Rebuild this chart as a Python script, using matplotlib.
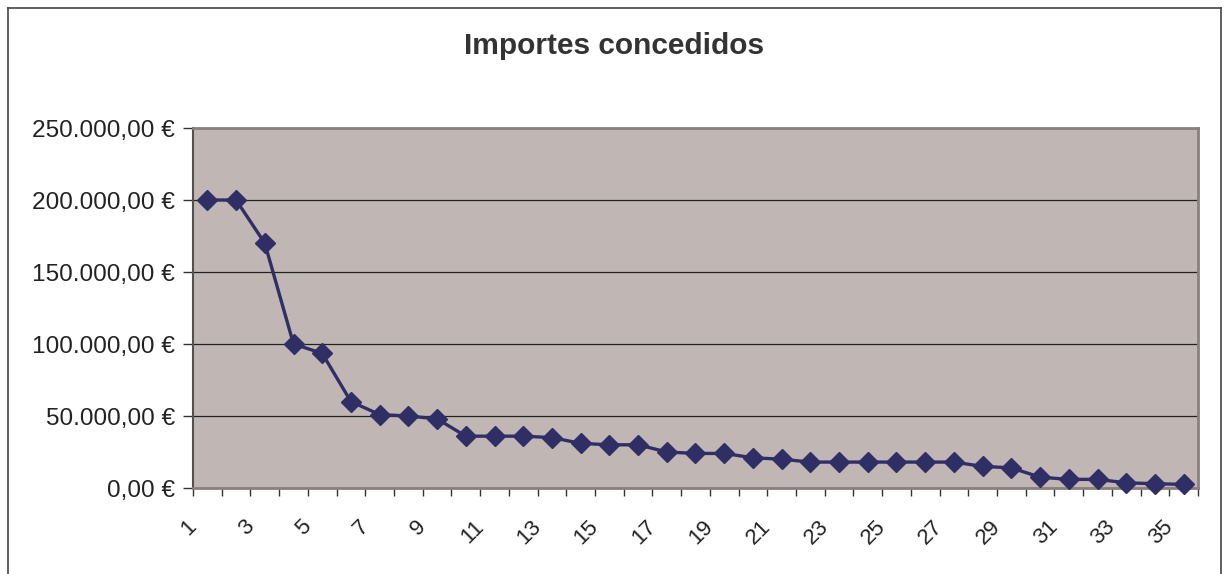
import matplotlib.pyplot as plt
from matplotlib.ticker import FuncFormatter, MultipleLocator
from matplotlib.lines import Line2D
from matplotlib.transforms import ScaledTranslation

plt.rcParams["font.family"] = ["Liberation Sans", "DejaVu Sans"]

# Data
categorias = list(range(1, 36))
importes = [200000, 200000, 170000, 100000, 93500, 60000, 51000, 50000, 48000, 36000,
            36000, 36000, 35000, 31000, 30000, 30000, 25000, 24000, 24000, 21000,
            20000, 18000, 18000, 18000, 18000, 18000, 18000, 15000, 14000, 7500,
            6000, 6000, 3600, 3000, 2500]
etiquetas_x = [str(c) for c in categorias if c % 2 == 1]


def euros(v, pos):
    s = f"{v:,.2f}".replace(",", "X").replace(".", ",").replace("X", ".")
    return s + " €"


fig = plt.figure(figsize=(12.26, 5.74), dpi=100)
ax = fig.add_axes([193 / 1226, 1 - 488 / 574, 1005 / 1226, 360 / 574])
ax.set_facecolor("#c0b7b4")

ax.plot(categorias, importes, color="#2f2f66", lw=2.4, marker="D",
        markersize=10.5, zorder=3, clip_on=False)

ax.set_xlim(0.5, 35.5)
ax.set_ylim(0, 250000)
ax.yaxis.set_major_locator(MultipleLocator(50000))
ax.yaxis.set_major_formatter(FuncFormatter(euros))
ax.grid(axis="y", color="#222222", lw=0.9)
ax.set_axisbelow(True)

ax.set_xticks([c for c in categorias if c % 2 == 1])
ax.set_xticklabels(etiquetas_x, rotation=45, ha="right", va="center",
                   rotation_mode="anchor", fontsize=16, color="#222222")
ax.set_xticks([c + 0.5 for c in range(0, 36)], minor=True)
ax.tick_params(axis="x", which="major", length=0, pad=25.5)
ax.tick_params(axis="x", which="minor", length=6, width=1, color="#333333")
ax.tick_params(axis="y", length=7, width=1, color="#333333",
               labelsize=17.6, labelcolor="#222222", pad=6)

# Excel-style placement of the rotated category labels
offset = ScaledTranslation(-14 / 100, 0, fig.dpi_scale_trans)
for lab in ax.get_xticklabels():
    lab.set_transform(lab.get_transform() + offset)

for side in ["top", "right"]:
    ax.spines[side].set_color("#8a7f7d")
    ax.spines[side].set_linewidth(2)
ax.spines["left"].set_color("#555050")
ax.spines["left"].set_linewidth(1.5)
ax.spines["bottom"].set_color("#8a7f7d")
ax.spines["bottom"].set_linewidth(2)

fig.text(614 / 1226, 1 - 46 / 574, "Importes concedidos", ha="center",
         va="center", fontsize=21.5, fontweight="bold", color="#333333")

# chart border
x0, x1, y0 = 7.5 / 1226, 1220.5 / 1226, 1 - 7.5 / 574
for xs, ys in [([x0, x0], [0, y0]), ([x0, x1], [y0, y0]), ([x1, x1], [y0, 0])]:
    fig.add_artist(Line2D(xs, ys, color="#444444", lw=1.2, transform=fig.transFigure))

fig.savefig("out.png", dpi=100)
